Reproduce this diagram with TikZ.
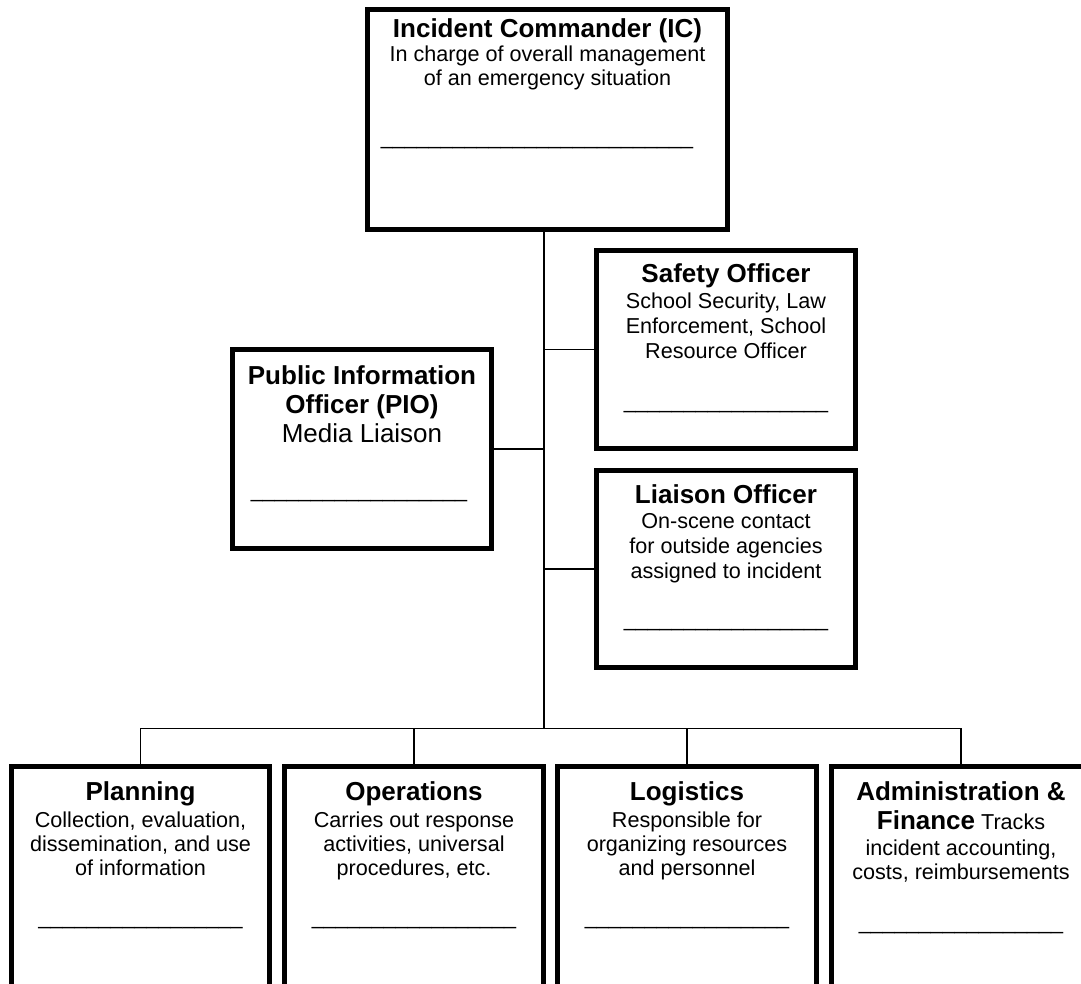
\documentclass[tikz,border=0pt]{standalone}
\usepackage{fontspec}
\setmainfont{Liberation Sans}
\newcommand{\bodysize}{\fontsize{21.6}{24}\selectfont}
\newcommand{\ttl}[1]{{\fontsize{26}{30}\selectfont\bfseries #1}}
\newcount\blankcnt
\newcommand{\blanks}[1]{\blankcnt=0 \loop\ifnum\blankcnt<#1 \_\advance\blankcnt by 1 \repeat}
\newcommand{\cbox}[1]{\begin{tabular}[t]{@{}c@{}}#1\end{tabular}}
\begin{document}
\begin{tikzpicture}[x=1pt,y=-1pt,
  ibox/.style={draw=black, line width=5pt, inner sep=0pt, outer sep=0pt},
  txt/.style={anchor=base, inner sep=0pt, outer sep=0pt, font=\bodysize},
  conn/.style={draw=black, line width=1.2pt}]
\useasboundingbox (0,0) rectangle (1081,984);
\fill[white] (0,0) rectangle (1081,984);
\clip (0,0) rectangle (1081,984);

% boxes
\node[ibox, minimum width=360pt, minimum height=220pt] (ic) at (547.5,119.5) {};
\node[ibox, minimum width=259pt, minimum height=198pt] (safety) at (726,349.5) {};
\node[ibox, minimum width=259pt, minimum height=197pt] (liaison) at (726,569) {};
\node[ibox, minimum width=259pt, minimum height=199pt] (pio) at (362,449) {};
\node[ibox, minimum width=258pt, minimum height=260pt] (plan) at (140.5,896.5) {};
\node[ibox, minimum width=259pt, minimum height=260pt] (ops) at (414,896.5) {};
\node[ibox, minimum width=259pt, minimum height=260pt] (log) at (687,896.5) {};
\node[ibox, minimum width=259pt, minimum height=260pt] (adm) at (961,896.5) {};

% connectors
\coordinate (bus) at (544,728.5);
\draw[conn] (ic.south -| bus) -- (bus);
\draw[conn] (safety.west -| bus) -- (safety.west);
\draw[conn] (liaison.west -| bus) -- (liaison.west);
\draw[conn] (pio.east) -- (pio.east -| bus);
\draw[conn] (plan.north) |- (bus);
\draw[conn] (ops.north) |- (bus);
\draw[conn] (log.north) |- (bus);
\draw[conn] (adm.north) |- (bus);

% texts
\node[txt] (ictxt) at (547.5,38) {\cbox{\ttl{Incident Commander (IC)}\\
  In charge of overall management\\ of an emergency situation}};
\node[txt] (icline) at (537,144.4) {\blanks{26}};

\node[txt] (safetytxt) at (726,283) {\cbox{\ttl{Safety Officer}\\[2pt]
  School Security, Law\\[1pt] Enforcement, School\\[1pt] Resource Officer}};
\node[txt] (safetyline) at (726,408.4) {\blanks{17}};

\node[txt] (liaisontxt) at (726,503) {\cbox{\ttl{Liaison Officer}\\[1pt]
  On-scene contact\\[1pt] for outside agencies\\[1pt] assigned to incident}};
\node[txt] (liaisonline) at (726,626.4) {\blanks{17}};

\node[txt] (piotxt) at (362,384) {\cbox{\ttl{Public Information}\\[3.8pt]
  \ttl{Officer (PIO)}\\[2.8pt] {\fontsize{26}{30}\selectfont Media Liaison}}};
\node[txt] (pioline) at (359,497.4) {\blanks{18}};

\node[txt] (plantxt) at (140.5,800) {\cbox{\ttl{Planning}\\[3pt]
  Collection, evaluation,\\ dissemination, and use\\ of information}};
\node[txt] (planline) at (140.5,924) {\blanks{17}};

\node[txt] (opstxt) at (414,800) {\cbox{\ttl{Operations}\\[3pt]
  Carries out response\\ activities, universal\\ procedures, etc.}};
\node[txt] (opsline) at (414,924) {\blanks{17}};

\node[txt] (logtxt) at (687,800) {\cbox{\ttl{Logistics}\\[3pt]
  Responsible for\\ organizing resources\\ and personnel}};
\node[txt] (logline) at (687,924) {\blanks{17}};

\node[txt] (admtxt) at (961,800) {\cbox{\ttl{Administration \&}\\[3.8pt]
  \ttl{Finance} Tracks\\[2pt] incident accounting,\\ costs, reimbursements}};
\node[txt] (admline) at (961,929) {\blanks{17}};
\end{tikzpicture}
\end{document}
